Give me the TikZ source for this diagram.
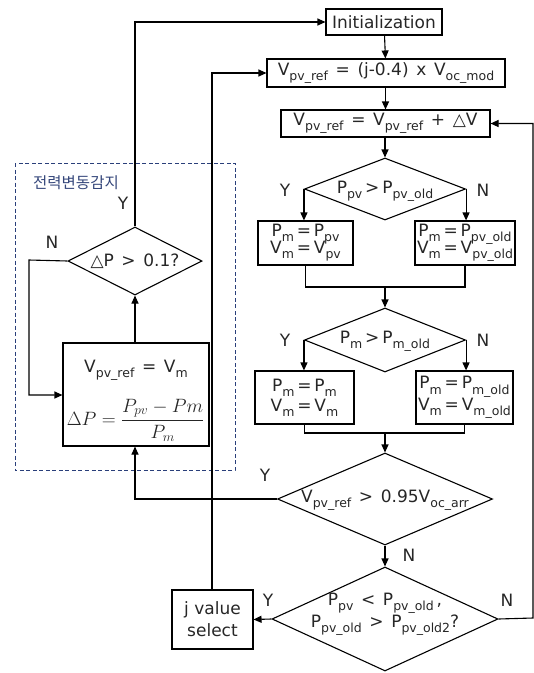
\documentclass[tikz,border=0pt]{standalone}
\usepackage{fontspec}
\usepackage{graphicx}
\setmainfont{DejaVu Sans}
\newfontfamily\krfont{Noto Sans CJK KR}
\usetikzlibrary{arrows.meta,shapes.geometric,calc}
\newcommand{\sbs}[1]{\raisebox{-0.3em}{\fontsize{12.5}{12.5}\selectfont #1}}
\newcommand{\tri}{△}
\newcommand{\gapx}{\hspace{0.45em}}
\definecolor{navy}{HTML}{2A3F7A}
\definecolor{krcol}{HTML}{34467A}
\begin{document}
\begin{tikzpicture}[x=1pt,y=-1pt,
  every node/.style={font=\fontsize{17}{20}\selectfont, text=black!85},
  boxn/.style={draw, line width=1.1pt, rectangle, inner sep=0pt, align=center},
  dia/.style={draw, line width=1.1pt, diamond, inner sep=0pt},
  dtext/.style={inner sep=0pt, align=center, font=\fontsize{17}{22}\selectfont},
  lbl/.style={inner sep=0pt, font=\fontsize{17}{20}\selectfont},
  ln/.style={line width=1.1pt},
  arr/.style={line width=1.1pt, -{Triangle[length=8pt,width=7pt]}}]
\useasboundingbox (0,0) rectangle (534,673);

% dashed region
\draw[navy, dashed, line width=1pt, dash pattern=on 4pt off 2.5pt] (15,163) rectangle (235,470);
\node[inner sep=0pt, font=\krfont\fontsize{15.5}{16}\selectfont, text=krcol] (title) at (76,183) {전력변동감지};

% main column
\node[boxn, minimum width=116pt, minimum height=26pt] (init) at (384,22) {Initialization};
\node[boxn, minimum width=238pt, minimum height=28pt] (box2) at (386,73) {V\sbs{pv\_ref}\gapx=\gapx(j-0.4)\gapx x\gapx V\sbs{oc\_mod}};
\node[boxn, minimum width=209pt, minimum height=27pt] (box3) at (385.5,123.5) {V\sbs{pv\_ref}\gapx=\gapx V\sbs{pv\_ref}\gapx+\gapx\tri V};

\node[dia, minimum width=161pt, minimum height=62pt] (d1) at (385,189) {};
\node[dtext] (d1t) at (385,191) {P\sbs{pv}\,>\,P\sbs{pv\_old}};
\node[boxn, minimum width=95pt, minimum height=44pt] (b1L) at (305.5,243) {P\sbs{m}\,=\,P\sbs{pv}\\[-4pt] V\sbs{m}\,=\,V\sbs{pv}};
\node[boxn, minimum width=100pt, minimum height=44pt] (b1R) at (465,243) {P\sbs{m}\,=\,P\sbs{pv\_old}\\[-4pt] V\sbs{m}\,=\,V\sbs{pv\_old}};
\coordinate (m1) at (385,287);

\node[dia, minimum width=161pt, minimum height=64pt] (d2) at (385,340) {};
\node[dtext] (d2t) at (385,341) {P\sbs{m}\,>\,P\sbs{m\_old}};
\node[boxn, minimum width=99pt, minimum height=53pt] (b2L) at (304.5,397.5) {P\sbs{m}\,=\,P\sbs{m}\\ V\sbs{m}\,=\,V\sbs{m}};
\node[boxn, minimum width=97pt, minimum height=53pt] (b2R) at (464.5,397.5) {P\sbs{m}\,=\,P\sbs{m\_old}\\ V\sbs{m}\,=\,V\sbs{m\_old}};
\coordinate (m2) at (385,433);

\node[dia, minimum width=215pt, minimum height=92pt] (d3) at (385,499) {};
\node[dtext] (d3t) at (385,500) {V\sbs{pv\_ref}\gapx>\gapx0.95V\sbs{oc\_arr}};

\node[dia, minimum width=226pt, minimum height=104pt] (d4) at (385,619) {};
\node[dtext] (d4t) at (385,614) {P\sbs{pv}\gapx<\gapx P\sbs{pv\_old}\,,\\ P\sbs{pv\_old}\gapx>\gapx P\sbs{pv\_old2}?};

\node[boxn, minimum width=81pt, minimum height=59pt, font=\fontsize{17}{22}\selectfont] (jbox) at (212.5,619.5) {j value\\ select};

% left group
\node[dia, minimum width=134pt, minimum height=68pt] (dP) at (135,261) {};
\node[dtext] (dPt) at (135,261) {\tri P\gapx>\gapx0.1?};
\node[boxn, minimum width=146pt, minimum height=103pt] (boxdP) at (136,394.5) {};
\node[inner sep=0pt] (eq1) at (136,370) {V\sbs{pv\_ref}\gapx=\gapx V\sbs{m}};
\node[inner sep=0pt, font=\fontsize{20}{24}\selectfont] (eq2) at (135.5,420) {\scalebox{0.93}{$\displaystyle \Delta P=\frac{P_{pv}-Pm}{P_m}$}};

% coordinates for bends
\coordinate (tl) at (135,22);
\coordinate (nl1) at (29,260);
\coordinate (nl2) at (29,395);
\coordinate (yl) at (135,499);
\coordinate (jt) at (212,73);
\coordinate (rr1) at (533,618);
\coordinate (rr2) at (533,123.5);

% connectors main
\draw[arr] (init) -- (box2);
\draw[arr] (box2.south -| box3.north) -- (box3.north);
\draw[arr] (box3.south -| d1.north) -- (d1.north);
\draw[arr] (d1.west) -- (d1.west |- b1L.north);
\draw[arr] (d1.east) -- (d1.east |- b1R.north);
\draw[ln] (b1L.south) |- (m1) -| (b1R.south);
\draw[arr] (m1) -- (d2.north);
\draw[arr] (d2.west) -- (d2.west |- b2L.north);
\draw[arr] (d2.east) -- (d2.east |- b2R.north);
\draw[ln] (b2L.south) |- (m2) -| (b2R.south);
\draw[arr] (m2) -- (d3.north);
\draw[arr] (d3.south) -- (d4.north);
\draw[arr] (d3.west) -- (yl) -- (boxdP.south -| yl);
\draw[arr] (d4.west) -- (jbox.east);
\draw[arr] (jbox.north -| jt) -- (jt) -- (box2.west);
\draw[arr] (d4.east) -- (rr1) -- (rr2) -- (box3.east);

% connectors left
\draw[arr] (dP.north) -- (tl) -- (init.west);
\draw[arr] (dP.west) -- (nl1) -- (nl2) -- (boxdP.west |- nl2);
\draw[arr] (boxdP.north -| dP.south) -- (dP.south);

% labels
\node[lbl] (y1) at (285,190) {Y};
\node[lbl] (n1) at (483,190) {N};
\node[lbl] (y2) at (285,340) {Y};
\node[lbl] (n2) at (483,340) {N};
\node[lbl] (y3) at (265,475) {Y};
\node[lbl] (n3) at (409,555) {N};
\node[lbl] (y4) at (268,600) {Y};
\node[lbl] (n4) at (507,600) {N};
\node[lbl] (y5) at (123,203) {Y};
\node[lbl] (n5) at (52,242) {N};
\end{tikzpicture}
\end{document}
